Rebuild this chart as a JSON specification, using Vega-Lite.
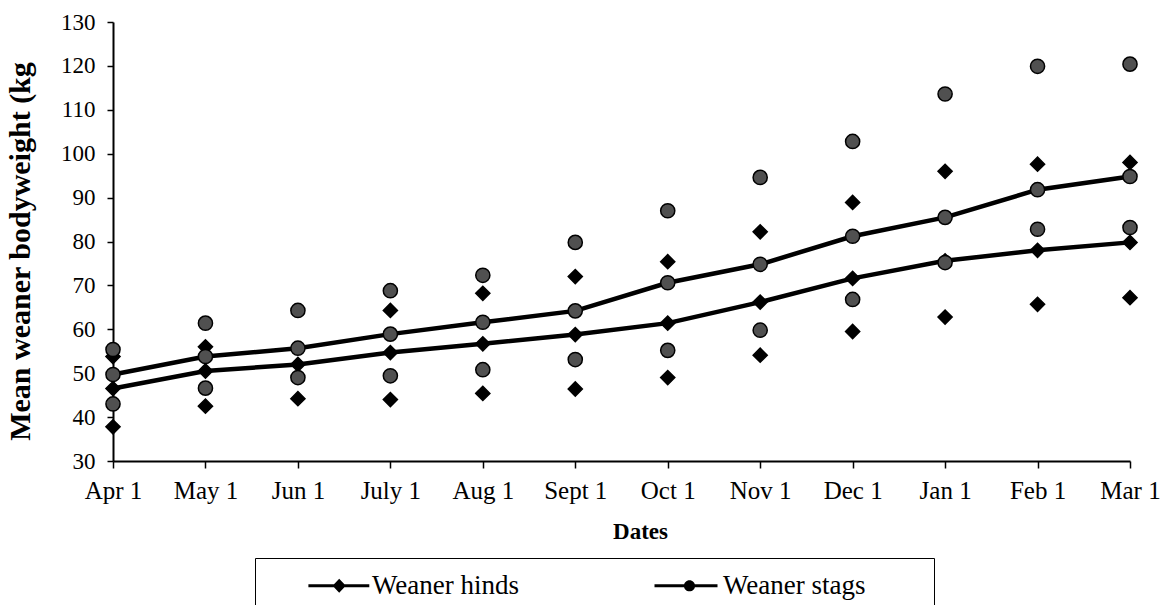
{
  "$schema": "https://vega.github.io/schema/vega-lite/v6.json",
  "width": 1017,
  "height": 439,
  "autosize": {"type": "none"},
  "padding": {"left": 113, "top": 22, "right": 37, "bottom": 144},
  "background": "white",
  "config": {
    "view": {"stroke": null},
    "font": "Liberation Serif",
    "axis": {"grid": false, "domainColor": "black", "tickColor": "black", "labelColor": "black", "titleColor": "black", "labelFont": "Liberation Serif", "titleFont": "Liberation Serif"}
  },
  "data": {
    "values": [
      {"d": "Apr 1", "s": "Weaner hinds", "k": "mean", "v": 46.5},
      {"d": "May 1", "s": "Weaner hinds", "k": "mean", "v": 50.5},
      {"d": "Jun 1", "s": "Weaner hinds", "k": "mean", "v": 52},
      {"d": "July 1", "s": "Weaner hinds", "k": "mean", "v": 54.7},
      {"d": "Aug 1", "s": "Weaner hinds", "k": "mean", "v": 56.7},
      {"d": "Sept 1", "s": "Weaner hinds", "k": "mean", "v": 58.8},
      {"d": "Oct 1", "s": "Weaner hinds", "k": "mean", "v": 61.4},
      {"d": "Nov 1", "s": "Weaner hinds", "k": "mean", "v": 66.2},
      {"d": "Dec 1", "s": "Weaner hinds", "k": "mean", "v": 71.6},
      {"d": "Jan 1", "s": "Weaner hinds", "k": "mean", "v": 75.6},
      {"d": "Feb 1", "s": "Weaner hinds", "k": "mean", "v": 78},
      {"d": "Mar 1", "s": "Weaner hinds", "k": "mean", "v": 79.8},
      {"d": "Apr 1", "s": "Weaner hinds", "k": "upper", "v": 53.8},
      {"d": "May 1", "s": "Weaner hinds", "k": "upper", "v": 56},
      {"d": "July 1", "s": "Weaner hinds", "k": "upper", "v": 64.3},
      {"d": "Aug 1", "s": "Weaner hinds", "k": "upper", "v": 68.2},
      {"d": "Sept 1", "s": "Weaner hinds", "k": "upper", "v": 72},
      {"d": "Oct 1", "s": "Weaner hinds", "k": "upper", "v": 75.4},
      {"d": "Nov 1", "s": "Weaner hinds", "k": "upper", "v": 82.2},
      {"d": "Dec 1", "s": "Weaner hinds", "k": "upper", "v": 88.9},
      {"d": "Jan 1", "s": "Weaner hinds", "k": "upper", "v": 96},
      {"d": "Feb 1", "s": "Weaner hinds", "k": "upper", "v": 97.6},
      {"d": "Mar 1", "s": "Weaner hinds", "k": "upper", "v": 98},
      {"d": "Apr 1", "s": "Weaner hinds", "k": "lower", "v": 37.8},
      {"d": "May 1", "s": "Weaner hinds", "k": "lower", "v": 42.5},
      {"d": "Jun 1", "s": "Weaner hinds", "k": "lower", "v": 44.2},
      {"d": "July 1", "s": "Weaner hinds", "k": "lower", "v": 44},
      {"d": "Aug 1", "s": "Weaner hinds", "k": "lower", "v": 45.4},
      {"d": "Sept 1", "s": "Weaner hinds", "k": "lower", "v": 46.4},
      {"d": "Oct 1", "s": "Weaner hinds", "k": "lower", "v": 49},
      {"d": "Nov 1", "s": "Weaner hinds", "k": "lower", "v": 54.1},
      {"d": "Dec 1", "s": "Weaner hinds", "k": "lower", "v": 59.5},
      {"d": "Jan 1", "s": "Weaner hinds", "k": "lower", "v": 62.8},
      {"d": "Feb 1", "s": "Weaner hinds", "k": "lower", "v": 65.7},
      {"d": "Mar 1", "s": "Weaner hinds", "k": "lower", "v": 67.2},
      {"d": "Apr 1", "s": "Weaner stags", "k": "mean", "v": 49.7},
      {"d": "May 1", "s": "Weaner stags", "k": "mean", "v": 53.8},
      {"d": "Jun 1", "s": "Weaner stags", "k": "mean", "v": 55.7},
      {"d": "July 1", "s": "Weaner stags", "k": "mean", "v": 58.9},
      {"d": "Aug 1", "s": "Weaner stags", "k": "mean", "v": 61.6},
      {"d": "Sept 1", "s": "Weaner stags", "k": "mean", "v": 64.2},
      {"d": "Oct 1", "s": "Weaner stags", "k": "mean", "v": 70.6},
      {"d": "Nov 1", "s": "Weaner stags", "k": "mean", "v": 74.8},
      {"d": "Dec 1", "s": "Weaner stags", "k": "mean", "v": 81.2},
      {"d": "Jan 1", "s": "Weaner stags", "k": "mean", "v": 85.5},
      {"d": "Feb 1", "s": "Weaner stags", "k": "mean", "v": 91.8},
      {"d": "Mar 1", "s": "Weaner stags", "k": "mean", "v": 94.8},
      {"d": "Apr 1", "s": "Weaner stags", "k": "upper", "v": 55.4},
      {"d": "May 1", "s": "Weaner stags", "k": "upper", "v": 61.4},
      {"d": "Jun 1", "s": "Weaner stags", "k": "upper", "v": 64.3},
      {"d": "July 1", "s": "Weaner stags", "k": "upper", "v": 68.8},
      {"d": "Aug 1", "s": "Weaner stags", "k": "upper", "v": 72.3},
      {"d": "Sept 1", "s": "Weaner stags", "k": "upper", "v": 79.8},
      {"d": "Oct 1", "s": "Weaner stags", "k": "upper", "v": 87},
      {"d": "Nov 1", "s": "Weaner stags", "k": "upper", "v": 94.6},
      {"d": "Dec 1", "s": "Weaner stags", "k": "upper", "v": 102.8},
      {"d": "Jan 1", "s": "Weaner stags", "k": "upper", "v": 113.6},
      {"d": "Feb 1", "s": "Weaner stags", "k": "upper", "v": 119.9},
      {"d": "Mar 1", "s": "Weaner stags", "k": "upper", "v": 120.4},
      {"d": "Apr 1", "s": "Weaner stags", "k": "lower", "v": 43},
      {"d": "May 1", "s": "Weaner stags", "k": "lower", "v": 46.6},
      {"d": "Jun 1", "s": "Weaner stags", "k": "lower", "v": 49},
      {"d": "July 1", "s": "Weaner stags", "k": "lower", "v": 49.4},
      {"d": "Aug 1", "s": "Weaner stags", "k": "lower", "v": 50.8},
      {"d": "Sept 1", "s": "Weaner stags", "k": "lower", "v": 53.1},
      {"d": "Oct 1", "s": "Weaner stags", "k": "lower", "v": 55.2},
      {"d": "Nov 1", "s": "Weaner stags", "k": "lower", "v": 59.8},
      {"d": "Dec 1", "s": "Weaner stags", "k": "lower", "v": 66.8},
      {"d": "Jan 1", "s": "Weaner stags", "k": "lower", "v": 75.2},
      {"d": "Feb 1", "s": "Weaner stags", "k": "lower", "v": 82.8},
      {"d": "Mar 1", "s": "Weaner stags", "k": "lower", "v": 83.2}
    ]
  },
  "encoding": {
    "x": {
      "field": "d", "type": "nominal",
      "sort": ["Apr 1", "May 1", "Jun 1", "July 1", "Aug 1", "Sept 1", "Oct 1", "Nov 1", "Dec 1", "Jan 1", "Feb 1", "Mar 1"],
      "scale": {"type": "point", "padding": 0},
      "axis": {
        "title": "Dates", "labelAngle": 0, "labelFontSize": 25, "labelPadding": 10, "tickSize": 7, "tickWidth": 1.5,
        "domainWidth": 2, "titleFontSize": 23, "titleFontWeight": "bold", "titleX": 527, "titleY": 77, "titleBaseline": "alphabetic"
      }
    },
    "y": {
      "field": "v", "type": "quantitative",
      "scale": {"domain": [30, 130], "nice": false, "zero": false},
      "axis": {
        "title": "Mean weaner bodyweight (kg", "values": [30, 40, 50, 60, 70, 80, 90, 100, 110, 120, 130],
        "labelFontSize": 23, "labelPadding": 12, "tickSize": 6, "tickWidth": 1.5, "domainWidth": 2,
        "titleFontSize": 30, "titleFontWeight": "bold", "titleAngle": -90, "titleX": -84, "titleY": 229,
        "titleBaseline": "alphabetic", "titleAlign": "center"
      }
    }
  },
  "layer": [
    {
      "transform": [{"filter": "datum.k === 'mean'"}],
      "mark": {"type": "line", "color": "black", "strokeWidth": 4.5},
      "encoding": {"detail": {"field": "s", "type": "nominal"}}
    },
    {
      "mark": {"type": "point", "filled": true, "stroke": "black", "strokeWidth": 1.5, "opacity": 1, "size": 200},
      "encoding": {
        "shape": {
          "field": "s", "type": "nominal",
          "scale": {"domain": ["Weaner hinds", "Weaner stags"], "range": ["diamond", "circle"]},
          "legend": null
        },
        "fill": {
          "field": "s", "type": "nominal",
          "scale": {"domain": ["Weaner hinds", "Weaner stags"], "range": ["black", "#505050"]},
          "legend": null
        }
      }
    },
    {
      "transform": [{"filter": "datum.k === 'mean'"}],
      "mark": {"type": "point", "filled": true, "opacity": 0, "size": 196, "color": "black"},
      "encoding": {
        "shape": {
          "field": "s", "type": "nominal",
          "scale": {"domain": ["Weaner hinds", "Weaner stags"], "range": ["M3.7,-0.22L12.4,-0.22L12.4,0.22L3.7,0.22ZM8.1,-1L9.05,0L8.1,1L7.15,0Z", "M3,-0.22L12,-0.22L12,0.22L3,0.22ZM7.2,0A0.8,0.8 0 1,1 8.8,0A0.8,0.8 0 1,1 7.2,0Z"]},
          "legend": {
            "title": "\u00a0", "titleOrient": "right", "titlePadding": 54, "titleFontSize": 10,
            "orient": "none", "legendX": 142, "legendY": 536, "direction": "horizontal",
            "strokeColor": "black", "fillColor": "white", "padding": 14, "symbolSize": 196,
            "symbolOpacity": 1, "symbolFillColor": "black",
            "labelOffset": 76, "columnPadding": 100, "labelFontSize": 27, "labelFont": "Liberation Serif",
            "labelColor": "black", "labelLimit": 0
          }
        }
      }
    }
  ],
  "resolve": {"scale": {"shape": "independent"}}
}
